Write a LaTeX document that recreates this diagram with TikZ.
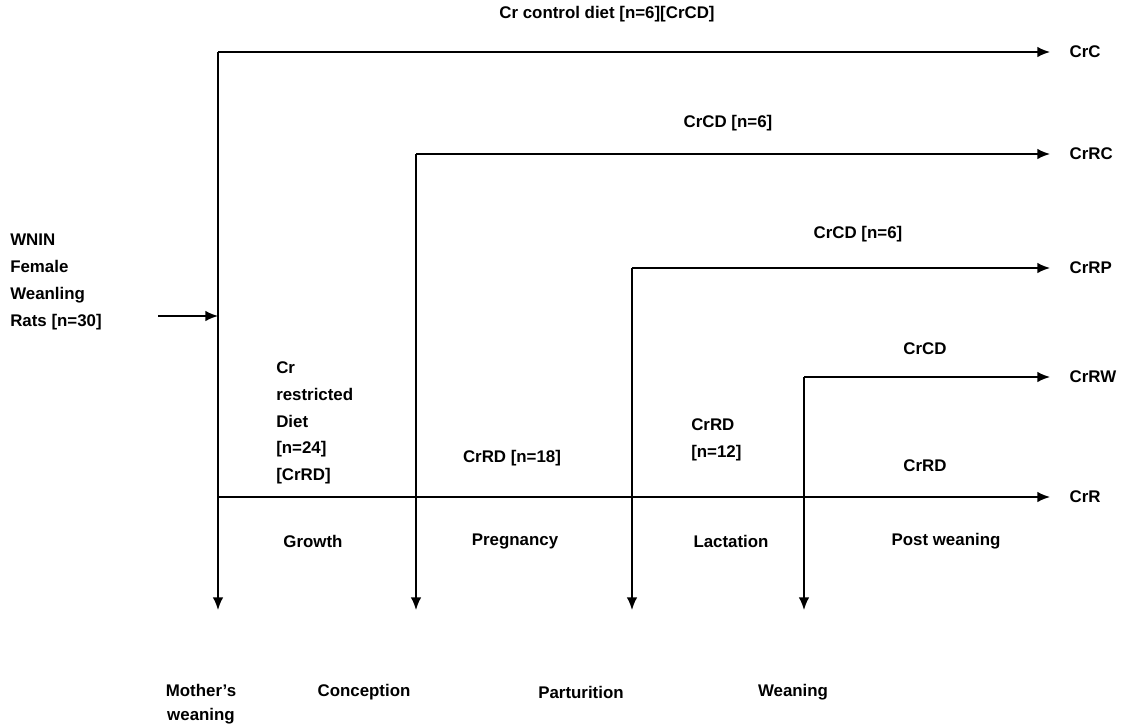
\documentclass[tikz,border=0pt]{standalone}
\usepackage{fontspec}
\setmainfont{Liberation Sans}
\usetikzlibrary{arrows.meta}

\begin{document}
\begin{tikzpicture}
[x=0.025cm,y=-0.025cm,
  lblDecorate/.style={font=\bfseries\fontsize{12}{19}\selectfont,inner sep=0pt},%
  endDecorate/.style={lblDecorate,anchor=west,outer xsep=14pt},%
  lineDecorate/.style={-{Latex[length=9pt,width=7.5pt]},line width=1.1pt}]
\useasboundingbox (0,0) rectangle (1133,726);
%% corners of the diet lines
\foreach \cname/\x/\y in {
  k1/218/52, k2/416/154, k3/632/268, k4/804/377, k5/218/497}
{
  \coordinate (\cname) at (\x,\y);
}
%% free ends of the time arrows
\foreach \cname/\x in {d1/218, d2/416, d3/632, d4/804}
{
  \coordinate (\cname) at (\x,610);
}
\coordinate (start) at (158,316);
\coordinate (entry) at (218,316);
%% group names
\foreach \nodename/\txt/\y in {
  crc/CrC/52, crrc/CrRC/154, crrp/CrRP/268, crrw/CrRW/377, crr/CrR/497}
{
  \node (\nodename) at (1050,\y) [endDecorate] {\txt};
}
%% diet labels
\node (cdall) at (607,14) [lblDecorate] {Cr control diet [n=6][CrCD]};
\node (cdrc) at (728,123) [lblDecorate] {CrCD [n=6]};
\node (cdrp) at (858,234) [lblDecorate] {CrCD [n=6]};
\node (cdrw) at (925,349) [lblDecorate] {CrCD};
\node (rdr) at (925,466) [lblDecorate] {CrRD};
\node (rdall) at (276,423) [lblDecorate,anchor=west,align=left]
  {Cr\\restricted\\Diet\\{[n=24]}\\{[CrRD]}};
\node (rd18) at (512,458) [lblDecorate] {CrRD [n=18]};
\node (rd12) at (691,440) [lblDecorate,anchor=west,align=left] {CrRD\\{[n=12]}};
\node (wnin) at (10,282) [lblDecorate,anchor=west,align=left]
  {WNIN\\Female\\Weanling\\Rats [n=30]};
%% periods
\foreach \nodename/\txt/\x in {
  growth/Growth/313, pregn/Pregnancy/515, lact/Lactation/731, postw/Post weaning/946}
{
  \node (\nodename) at (\x,541) [lblDecorate] {\txt};
}
%% events
\node (mwean) at (201,704) [lblDecorate,align=center,
  font=\bfseries\fontsize{12}{17}\selectfont] {Mother’s\\weaning};
\foreach \nodename/\txt/\x in {
  concep/Conception/364, partur/Parturition/581, wean/Weaning/793}
{
  \node (\nodename) at (\x,692) [lblDecorate] {\txt};
}
%% lines
\draw[lineDecorate] (start) -- (entry);
\path
\foreach \startnode/\endnode in {k1/crc, k2/crrc, k3/crrp, k4/crrw, k5/crr,
  k1/d1, k2/d2, k3/d3, k4/d4}
{
  (\startnode) edge[lineDecorate] (\endnode)
};
\end{tikzpicture}
\end{document}
